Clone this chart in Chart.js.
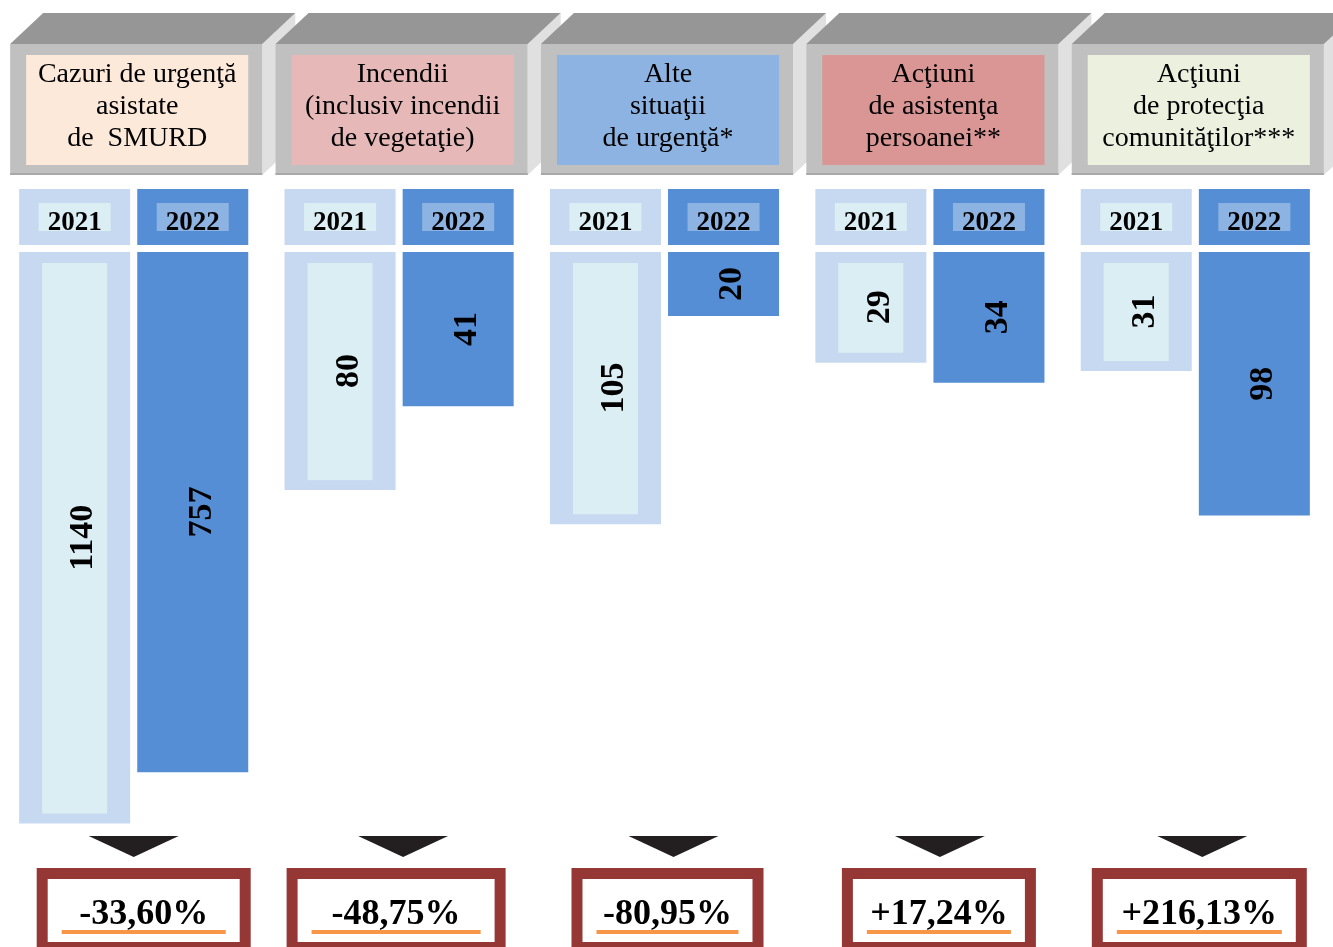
<!DOCTYPE html>
<html lang="ro">
<head>
<meta charset="utf-8">
<script src="https://cdn.jsdelivr.net/npm/chart.js@4"></script>
<style>
body { margin: 0; background: #fff; }
#khung { position: relative; width: 1333px; height: 947px; }
</style>
</head>
<body>
<div id="khung"><canvas id="grafic"></canvas></div>
<script>
// categorii (titlurile de sus, pe randuri)
const categorii = [
    ["Cazuri de urgenţă", "asistate", "de  SMURD"],
    ["Incendii", "(inclusiv incendii", "de vegetaţie)"],
    ["Alte", "situaţii", "de urgenţă*"],
    ["Acţiuni", "de asistenţa", "persoanei**"],
    ["Acţiuni", "de protecţia", "comunităţilor***"]
];
const ani = ["2021", "2022"];
const valori2021 = [1140, 80, 105, 29, 31];
const valori2022 = [757, 41, 20, 34, 98];

// stiluri
const culoriTitlu = ["#fde9d9", "#e6b9b8", "#8db3e2", "#d99694", "#ebf1de"];
const culoareBara = ["#c6d9f1", "#558ed5"];
const culoareEticheta = ["#dbeef4", "#8db3e2"];
const latimeCasete = [214, 219, 192, 194, 215];
const deplasareCasete = [10, -3, 3, 9, 4];
const deplasareSageti = [0, 4, 9, 10, 7];

const FONT = "'Liberation Serif', 'Times New Roman', serif";

function variatie(a, b) {
    const p = ((b - a) / a * 100).toFixed(2).replace(".", ",");
    return (b >= a ? "+" : "") + p + "%";
}

const decor = {
    id: "decor",
    afterDraw(chart) {
        const ctx = chart.ctx;
        const m0 = chart.getDatasetMeta(0).data;
        const m1 = chart.getDatasetMeta(1).data;
        const xs = chart.scales.x;
        ctx.save();

        // dreptunghi interior la barele 2021
        m0.forEach(b => {
            const sus = Math.min(b.y, b.base), jos = Math.max(b.y, b.base);
            ctx.fillStyle = culoareEticheta[0];
            ctx.fillRect(b.x - b.width / 2 + 23, sus + 11, b.width - 46, jos - sus - 21);
        });

        // valorile, rotite (se citesc de jos in sus)
        [m0, m1].forEach((meta, d) => meta.forEach((b, i) => {
            const v = chart.data.datasets[d].data[i];
            ctx.save();
            ctx.translate(b.x + 9, (b.y + b.base) / 2);
            ctx.rotate(-Math.PI / 2);
            ctx.font = "bold 34px " + FONT;
            ctx.fillStyle = "#000";
            ctx.textAlign = "center";
            ctx.textBaseline = "middle";
            ctx.fillText(String(v), 0, 0);
            ctx.restore();
        }));

        // casetele cu anii
        [m0, m1].forEach((meta, d) => meta.forEach(b => {
            ctx.fillStyle = culoareBara[d];
            ctx.fillRect(b.x - b.width / 2, 189, b.width, 56);
            ctx.fillStyle = culoareEticheta[d];
            ctx.fillRect(b.x - 36, 203, 72, 28);
            ctx.fillStyle = "#000";
            ctx.font = "bold 27px " + FONT;
            ctx.textAlign = "center";
            ctx.textBaseline = "alphabetic";
            ctx.fillText(ani[d], b.x, 230);
        }));

        // titlurile 3D
        for (let i = 0; i < categorii.length; i++) {
            const L = m0[i].x - m0[i].width / 2 - 9;
            const R = m1[i].x + m1[i].width / 2 + 14;
            const sus = 44, jos = 175, dx = 33, dy = 31;
            // fata laterala
            ctx.fillStyle = "#e0e0e0";
            ctx.beginPath();
            ctx.moveTo(R, sus); ctx.lineTo(R + dx, sus - dy);
            ctx.lineTo(R + dx, jos - dy); ctx.lineTo(R, jos);
            ctx.closePath(); ctx.fill();
            // fata de sus
            ctx.fillStyle = "#969696";
            ctx.beginPath();
            ctx.moveTo(L, sus); ctx.lineTo(L + dx, sus - dy);
            ctx.lineTo(R + dx, sus - dy); ctx.lineTo(R, sus);
            ctx.closePath(); ctx.fill();
            // fata din fata
            ctx.fillStyle = "#c0c0c0";
            ctx.fillRect(L, sus, R - L, jos - sus);
            ctx.fillStyle = "#a8a8a8";
            ctx.fillRect(L, jos - 2, R - L, 2);
            ctx.fillStyle = culoriTitlu[i];
            ctx.fillRect(L + 16, 55, R - L - 30, 110);

            ctx.fillStyle = "#000";
            ctx.font = "28px " + FONT;
            ctx.textAlign = "center";
            ctx.textBaseline = "alphabetic";
            const cx = (L + 16 + R - 14) / 2;
            categorii[i].forEach((r, k) => ctx.fillText(r, cx, 82 + k * 32));
        }

        // sageti si casetele cu procente
        for (let i = 0; i < categorii.length; i++) {
            const c = xs.getPixelForValue(i);
            const ts = c + deplasareSageti[i];
            ctx.fillStyle = "#231f20";
            ctx.beginPath();
            ctx.moveTo(ts - 45, 836); ctx.lineTo(ts + 45, 836); ctx.lineTo(ts, 857);
            ctx.closePath(); ctx.fill();

            const w = latimeCasete[i];
            const x0 = c + deplasareCasete[i] - w / 2;
            ctx.fillStyle = "#953735";
            ctx.fillRect(x0, 868, w, 85);
            ctx.fillStyle = "#fff";
            ctx.fillRect(x0 + 11, 879, w - 22, 63);
            ctx.fillStyle = "#f79646";
            ctx.fillRect(x0 + 25, 930, w - 50, 4);
            ctx.fillStyle = "#000";
            ctx.font = "bold 36px " + FONT;
            ctx.textAlign = "center";
            ctx.textBaseline = "alphabetic";
            ctx.fillText(variatie(valori2021[i], valori2022[i]), x0 + w / 2, 924);
        }
        ctx.restore();
    }
};

new Chart(document.getElementById("grafic"), {
    type: "bar",
    data: {
        labels: categorii.map(c => c.join(" ")),
        datasets: [
            { label: ani[0], data: valori2021, backgroundColor: culoareBara[0] },
            { label: ani[1], data: valori2022, backgroundColor: culoareBara[1] }
        ]
    },
    options: {
        responsive: true,
        maintainAspectRatio: false,
        animation: false,
        categoryPercentage: 0.89,
        barPercentage: 0.94,
        layout: { padding: { top: 252, bottom: 117, left: 1, right: 5 } },
        plugins: { legend: { display: false }, tooltip: { enabled: false } },
        scales: {
            x: { display: false },
            y: { type: "logarithmic", reverse: true, min: 12, max: 1200, display: false }
        }
    },
    plugins: [decor]
});
</script>
</body>
</html>
